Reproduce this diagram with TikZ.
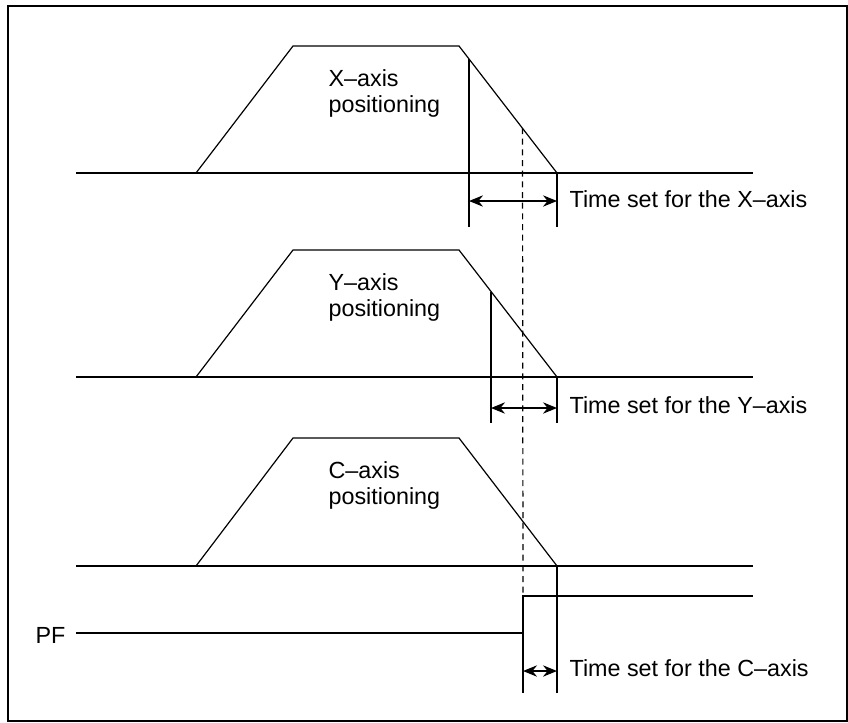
\documentclass[tikz,border=0pt]{standalone}
\usepackage{fontspec}
\setmainfont{Liberation Sans}
\usetikzlibrary{arrows.meta}

\begin{document}
\begin{tikzpicture}[x=0.75pt,y=-0.75pt,line width=0.9pt,
                >={Stealth[length=10.5pt,width=8.5pt]},
                every node/.style={inner sep=0pt,font=\fontsize{17.5}{19.5}\selectfont}]
        \tikzstyle{signal}=[line width=2.2pt]
        \tikzstyle{sync}=[dash pattern=on 4.5pt off 3.5pt]
        \tikzstyle{tag}=[anchor=base west,align=left]

        \useasboundingbox (0,0) rectangle (848,722);
        \draw[line width=1.9pt] (8,6) rectangle (847,721);

        % X-axis
        \draw (76,173) -- (753,173);
        \draw (196,173) -- (293,46) -- (459,46) -- (557,173);
        \node[tag] (xlab) at (328,112) {X--axis\\positioning};
        \coordinate (xtop) at (469,59);
        \coordinate (xend) at (557,173);
        \coordinate (xl) at (469,201);
        \coordinate (xr) at (557,201);
        \draw (xtop) -- (469,227);
        \draw (xend) -- (557,227);
        \draw[<->] (xl) -- (xr);
        \node[anchor=west] (xtime) at (569,199) {Time set for the X--axis};

        % Y-axis
        \draw (76,377) -- (753,377);
        \draw (196,377) -- (293,250) -- (459,250) -- (557,377);
        \node[tag] (ylab) at (328,316) {Y--axis\\positioning};
        \coordinate (ytop) at (491,291.5);
        \coordinate (yend) at (557,377);
        \coordinate (yl) at (491,408);
        \coordinate (yr) at (557,408);
        \draw (ytop) -- (491,423);
        \draw (yend) -- (557,423);
        \draw[<->] (yl) -- (yr);
        \node[anchor=west] (ytime) at (569,405) {Time set for the Y--axis};

        % C-axis
        \draw (76,566) -- (753,566);
        \draw (196,566) -- (293,438) -- (459,438) -- (557,566);
        \node[tag] (clab) at (328,504) {C--axis\\positioning};

        % PF signal
        \node[anchor=east] (pf) at (66,635) {PF};
        \coordinate (pfa) at (76,633);
        \coordinate (pfb) at (523,633);
        \coordinate (pfc) at (523,596);
        \coordinate (pfd) at (753,596);
        \draw[signal] (pfa) -- (pfb) -- (pfc) -- (pfd);

        \coordinate (cend) at (557,566);
        \coordinate (cl) at (523,671);
        \coordinate (cr) at (557,671);
        \draw (pfc) -- (523,693);
        \draw (cend) -- (557,693);
        \draw[<->] (cl) -- (cr);
        \node[anchor=west] (ctime) at (569,668) {Time set for the C--axis};

        \draw[sync] (522.5,128) -- (pfc);

\end{tikzpicture}
\end{document}
